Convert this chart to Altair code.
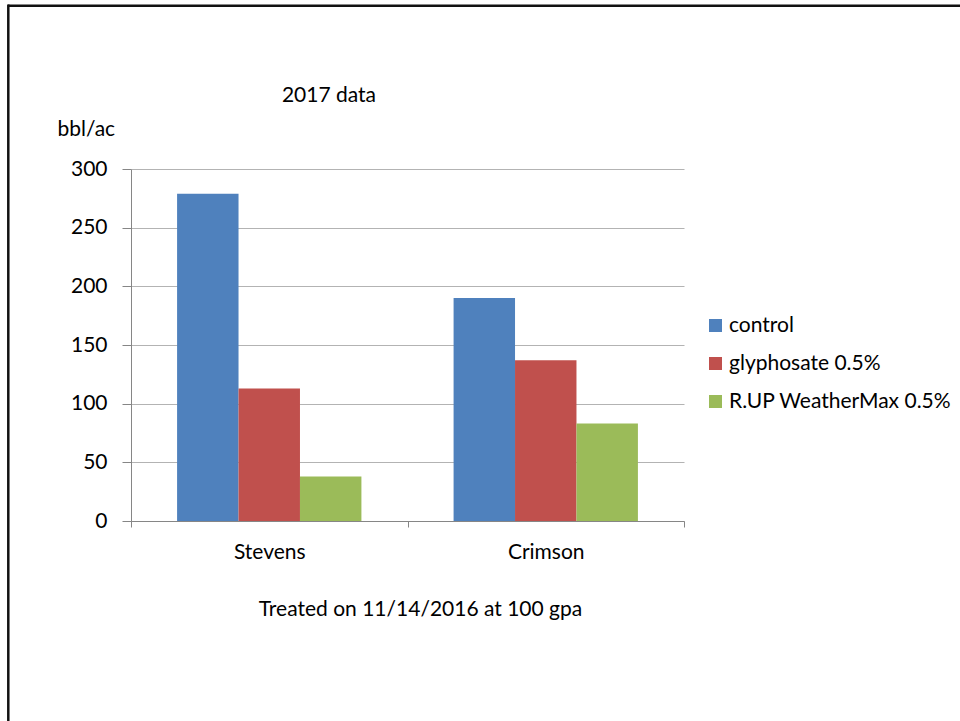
import altair as alt
import pandas as pd

# Yield per variety for each treatment (bbl/ac)
varieties = ["Stevens", "Crimson"]
treatments = ["control", "glyphosate 0.5%", "R.UP WeatherMax 0.5%"]
control = [279, 190]
glyphosate = [113, 137]
weathermax = [38, 83]
colors = ["#4F81BD", "#C0504D", "#9BBB59"]
y_ticks = [0, 50, 100, 150, 200, 250, 300]

rows = []
for name, vals in zip(treatments, [control, glyphosate, weathermax]):
    for variety, val in zip(varieties, vals):
        rows.append({"variety": variety, "treatment": name, "bbl": val})
df = pd.DataFrame(rows)

FONT = "Lato"
FS = 21
W, H = 553, 352
PAD = {"left": 131, "top": 169, "right": 276, "bottom": 200}

one = pd.DataFrame({"k": [0]})

# slide frame (top and left edges)
frame_top = alt.Chart(one).mark_rule(color="#111111", strokeWidth=2.5).encode(
    x=alt.value(-123), x2=alt.value(829), y=alt.value(-163.3)
)
frame_left = alt.Chart(one).mark_rule(color="#111111", strokeWidth=2.5).encode(
    x=alt.value(-122.7), y=alt.value(-164.5), y2=alt.value(552)
)

heading = alt.Chart(one).mark_text(
    text="2017 data", font=FONT, fontSize=FS, color="#000000",
    align="center", baseline="alphabetic"
).encode(x=alt.value(198), y=alt.value(-67.3))

bars = alt.Chart(df).mark_bar().encode(
    x=alt.X(
        "variety:N", sort=varieties,
        scale=alt.Scale(paddingInner=0, paddingOuter=0),
        axis=alt.Axis(
            title="Treated on 11/14/2016 at 100 gpa",
            labelAngle=0, tickBand="extent", tickSize=6,
            labelBaseline="alphabetic", labelPadding=31,
            titleX=289, titleY=94, titleAlign="center",
            titleBaseline="alphabetic",
        ),
    ),
    xOffset=alt.XOffset(
        "treatment:N", sort=treatments,
        scale=alt.Scale(paddingInner=0, paddingOuter=0.75),
    ),
    y=alt.Y(
        "bbl:Q",
        scale=alt.Scale(domain=[0, 300], nice=False),
        axis=alt.Axis(
            values=y_ticks, tickSize=9, labelPadding=15, grid=True,
            title="bbl/ac", titleAngle=0, titleX=-74, titleY=-34,
            titleAlign="left", titleBaseline="alphabetic",
        ),
    ),
    color=alt.Color(
        "treatment:N", sort=treatments,
        scale=alt.Scale(domain=treatments, range=colors),
        legend=alt.Legend(
            title=None, orient="none", legendX=574, legendY=146,
            symbolType="square", symbolSize=169, symbolStrokeWidth=0,
            labelFont=FONT, labelFontSize=FS, labelColor="#000000",
            labelOffset=3, rowPadding=16, padding=0, labelLimit=0,
        ),
    ),
)

chart = alt.layer(frame_top, frame_left, heading, bars).properties(
    width=W, height=H,
    autosize=alt.AutoSizeParams(type="none"),
    padding=PAD,
    background="white",
).configure_view(
    strokeWidth=0
).configure_axis(
    labelFont=FONT, titleFont=FONT, labelFontSize=FS, titleFontSize=FS,
    labelColor="#000000", titleColor="#000000", titleFontWeight="normal",
    domainColor="#868686", tickColor="#868686", gridColor="#b3b3b3",
    domainWidth=1, tickWidth=1, gridWidth=1,
)

chart.save("out.html", embed_options={"renderer": "svg", "actions": False})
